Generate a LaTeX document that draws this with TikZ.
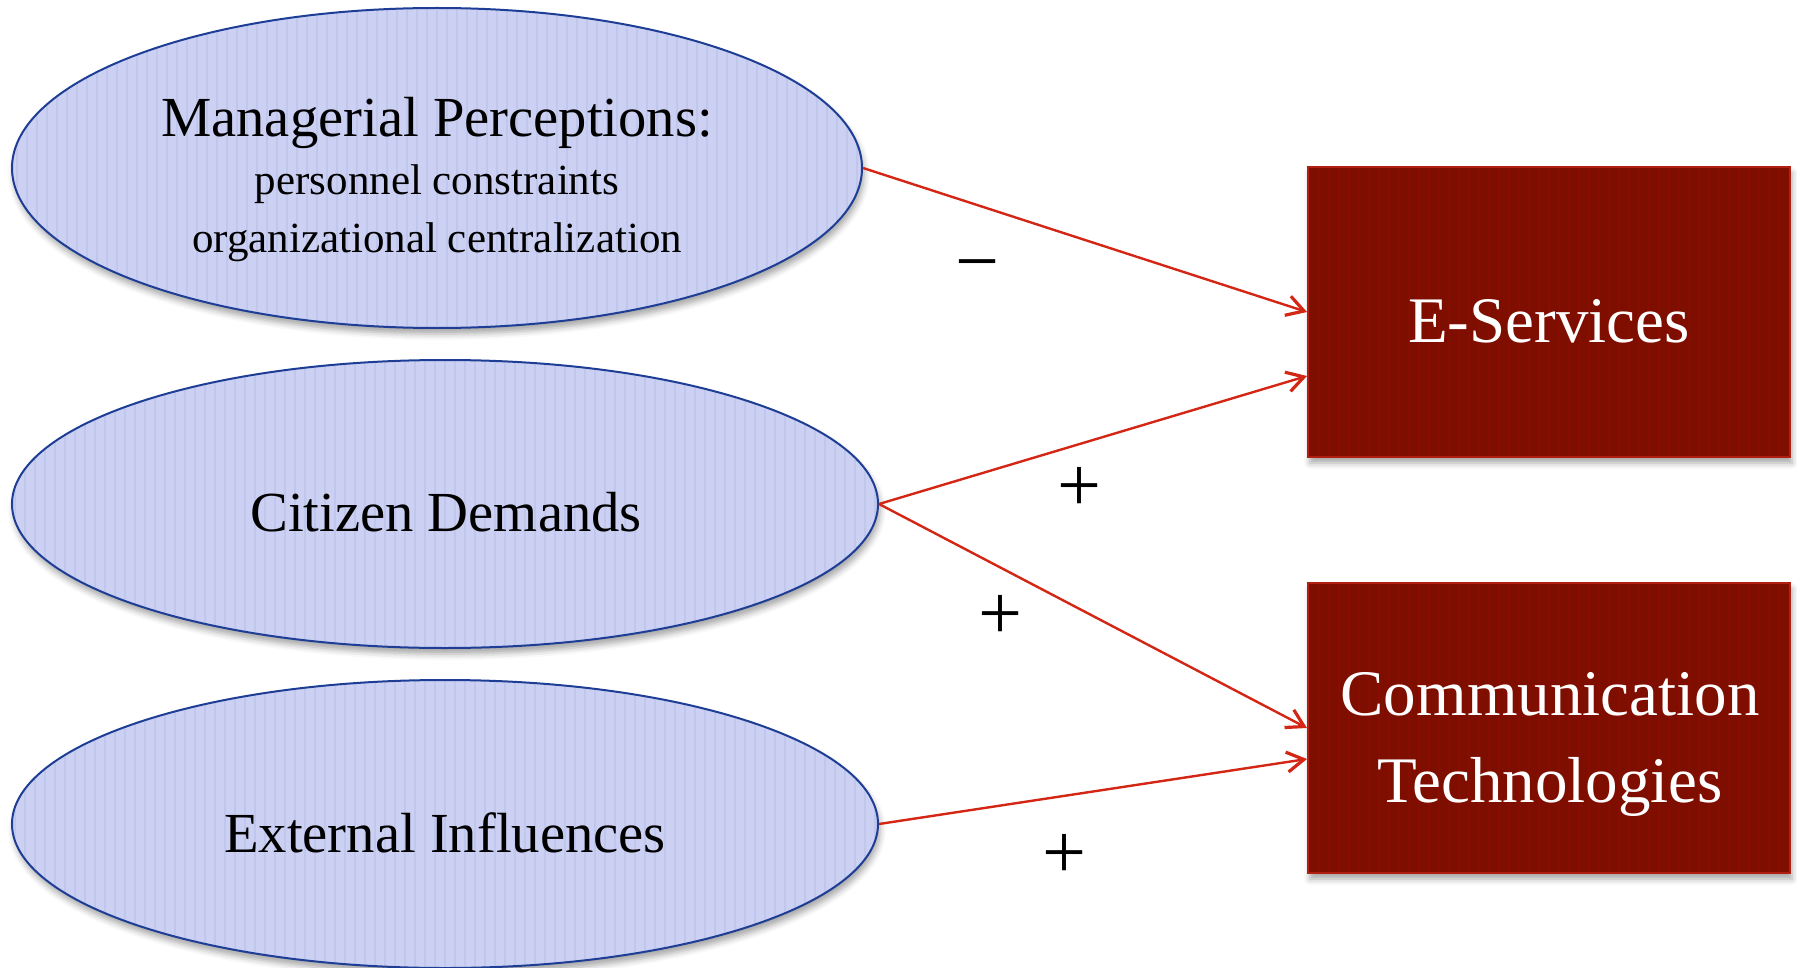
\documentclass[tikz,border=0pt]{standalone}
\usepackage{fontspec}
\setmainfont{Liberation Serif}
\usetikzlibrary{shapes.geometric,arrows.meta,shadows.blur}

\definecolor{ellfill}{RGB}{204,209,243}
\definecolor{ellline}{RGB}{30,62,150}
\definecolor{boxfill}{RGB}{126,14,0}
\definecolor{boxline}{RGB}{178,30,16}
\definecolor{linkred}{RGB}{212,38,20}

\tikzset{
  stripes/.style={path picture={
      \foreach \k in {-45,...,45}
        \draw[#1, line width=0.6pt]
          ([xshift=\k*5pt]path picture bounding box.north) --
          ([xshift=\k*5pt]path picture bounding box.south);}},
  factor/.style={ellipse, draw=ellline, line width=1pt, fill=ellfill,
    inner sep=0pt, stripes={ellline!7!ellfill},
    blur shadow={shadow xshift=1pt, shadow yshift=-3pt,
                 shadow opacity=35, shadow blur radius=3pt}},
  outcome/.style={rectangle, draw=boxline, line width=1pt, fill=boxfill,
    minimum width=241pt, minimum height=145pt, inner sep=0pt,
    stripes={boxfill!94!red},
    blur shadow={shadow xshift=1pt, shadow yshift=-3pt,
                 shadow opacity=35, shadow blur radius=3pt}},
  link/.style={draw=linkred, line width=1.2pt,
    -{Straight Barb[length=8.5pt,width=10pt,line width=1.6pt]}},
  sign/.style={font=\fontsize{39}{39}\selectfont, inner sep=0pt},
  big/.style={anchor=base, inner sep=0pt, font=\fontsize{28.3}{34}\selectfont},
  small/.style={anchor=base, inner sep=0pt, font=\fontsize{21.5}{26}\selectfont},
  boxtext/.style={anchor=base, inner sep=0pt, text=white,
    font=\fontsize{32.5}{38}\selectfont}
}

\begin{document}
\begin{tikzpicture}[x=0.5pt, y=-0.5pt]
\useasboundingbox (0,0) rectangle (1797,968);

% explanatory factors
\node[factor, minimum width=425pt, minimum height=160pt] (mp) at (437,168) {};
\node[factor, minimum width=433pt, minimum height=144pt] (cd) at (445,504) {};
\node[factor, minimum width=433pt, minimum height=144pt] (ei) at (445,824) {};

\node[big]   (mp-head) at (437,137) {Managerial Perceptions:};
\node[small] (mp-l1)   at (437,195) {personnel constraints};
\node[small] (mp-l2)   at (437,252) {organizational centralization};
\node[big]   (cd-text) at (446,531) {Citizen Demands};
\node[big]   (ei-text) at (445,852) {External Influences};

% outcomes
\node[outcome] (es) at (1549,312) {};
\node[outcome] (ct) at (1549,728) {};
\node[boxtext] (es-text) at (1549,342) {E-Services};
\node[boxtext] (ct-l1)   at (1550,715) {Communication};
\node[boxtext] (ct-l2)   at (1550,802) {Technologies};

% effects
\draw[link] (mp.east) -- (es.west);
\draw[link] (cd.east) -- ([yshift=-32pt]es.west);
\draw[link] (cd.east) -- (ct.west);
\draw[link] (ei.east) -- ([yshift=-15.5pt]ct.west);

% signs of the effects
\node[sign] (s1) at (977,274) {−};
\node[sign] (s2) at (1079,489) {+};
\node[sign] (s3) at (1000,617) {+};
\node[sign] (s4) at (1064,856) {+};
\end{tikzpicture}
\end{document}
